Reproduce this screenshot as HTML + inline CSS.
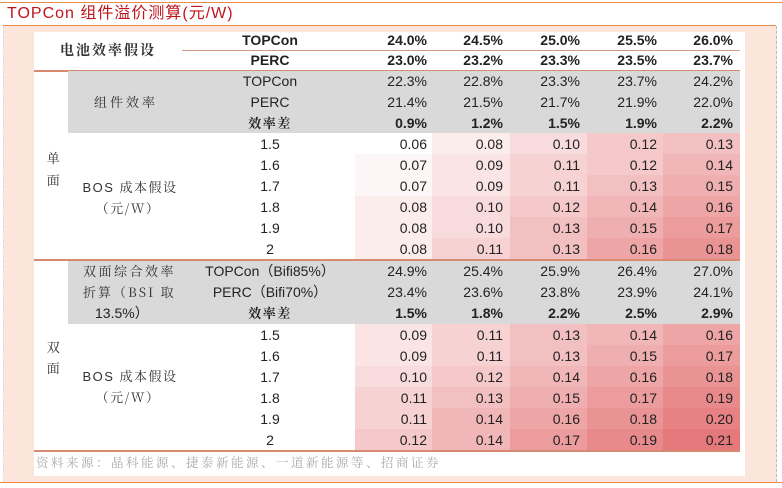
<!DOCTYPE html>
<html><head><meta charset="utf-8">
<style>
body{margin:0;width:782px;height:488px;background:#fff;position:relative;overflow:hidden;font-family:"Liberation Sans","Noto Sans CJK SC",sans-serif;color:#222}
.a{position:absolute}
.t{position:absolute;font-size:14px;line-height:20px;white-space:nowrap}
.c{transform:translateX(-50%)}
.r{transform:translateX(-100%)}
.zh{font-family:"Noto Serif CJK SC","Liberation Serif",serif;font-size:13px;color:#333;letter-spacing:1.5px}
</style></head><body>
<div class="a" style="left:0;top:2px;width:782px;height:1px;background:#ec8a4a"></div>
<div class="t" style="left:7px;top:3px;font-size:16px;line-height:22px;color:#c0141c;letter-spacing:1px">TOPCon 组件溢价测算(元/W)</div>
<div class="a" style="left:3px;top:25px;width:773px;height:1px;background:#ec8a4a"></div>
<div class="a" style="left:3px;top:26px;width:772px;height:456px;background:#fce5da;border-right:1px dashed #bbb;border-left:1px dashed #ddd"></div>
<div class="a" style="left:0;top:482px;width:782px;height:1px;background:#ec8a4a"></div>
<div class="a" style="left:34px;top:32px;width:711px;height:444px;background:#fff"></div>
<div id="tbl"></div>
<script>
const effTop=["24.0%","24.5%","25.0%","25.5%","26.0%"];
const effPerc=["23.0%","23.2%","23.3%","23.5%","23.7%"];
const modTop=["22.3%","22.8%","23.3%","23.7%","24.2%"];
const modPerc=["21.4%","21.5%","21.7%","21.9%","22.0%"];
const modDiff=["0.9%","1.2%","1.5%","1.9%","2.2%"];
const bos=["1.5","1.6","1.7","1.8","1.9","2"];
const single=[[0.06,0.08,0.10,0.12,0.13],[0.07,0.09,0.11,0.12,0.14],[0.07,0.09,0.11,0.13,0.15],[0.08,0.10,0.12,0.14,0.16],[0.08,0.10,0.13,0.15,0.17],[0.08,0.11,0.13,0.16,0.18]];
const biTop=["24.9%","25.4%","25.9%","26.4%","27.0%"];
const biPerc=["23.4%","23.6%","23.8%","23.9%","24.1%"];
const biDiff=["1.5%","1.8%","2.2%","2.5%","2.9%"];
const bifacial=[[0.09,0.11,0.13,0.14,0.16],[0.09,0.11,0.13,0.15,0.17],[0.10,0.12,0.14,0.16,0.18],[0.11,0.13,0.15,0.17,0.19],[0.11,0.14,0.16,0.18,0.20],[0.12,0.14,0.17,0.19,0.21]];

const T=document.getElementById('tbl');
const colL=[355,432,510,587,663,740];
const colR=[427,503,580,657,733];
const RH=21;
function box(x,y,w,h,bg,name){const d=document.createElement('div');d.className='a';d.style.cssText=`left:${x}px;top:${y}px;width:${w}px;height:${h}px;background:${bg}`;


T.appendChild(d);return d;}
function txt(s,x,y,cls,name,extra){const d=document.createElement('div');d.className='t '+(cls||'');d.textContent=s;d.style.left=x+'px';d.style.top=(y-10)+'px';if(extra)d.style.cssText+=extra;


T.appendChild(d);return d;}
function heat(v){const k=Math.max(0,Math.min(1,(v-0.06)/0.15));const a=[255,255,255],b=[229,120,122];return `rgb(${a.map((c,i)=>Math.round(c+(b[i]-c)*k)).join(',')})`;}

// header
txt('电池效率假设',108,50,'c zh','battery-eff-label','font-weight:bold;font-size:14px;letter-spacing:2px');
txt('TOPCon',270,40,'c','header-topcon','font-weight:bold');
txt('PERC',270,60,'c','header-perc','font-weight:bold');
effTop.forEach((v,i)=>txt(v,colR[i],40,'r','eff-topcon-'+i,'font-weight:bold'));
effPerc.forEach((v,i)=>txt(v,colR[i],60,'r','eff-perc-'+i,'font-weight:bold'));
box(182,50,558,1,'#d49a88','header-divider');
box(34,70,706,1.5,'#d88a70','header-rule');

// single gray block
box(68,71,672,62,'#d9d9d9','module-eff-block');
txt('组件效率',126,102,'c zh','module-eff-label','letter-spacing:3px');
[['TOPCon',modTop,''],['PERC',modPerc,''],['效率差',modDiff,'bold']].forEach((r,j)=>{
 const y=81+j*RH;
 txt(r[0],270,y,'c'+(j==2?' zh':''),'module-row-label-'+j,j==2?'font-weight:bold;color:#222':'');
 r[1].forEach((v,i)=>txt(v,colR[i],y,'r','module-'+j+'-'+i,r[2]?'font-weight:bold':''));
});
// single heat
single.forEach((row,j)=>{const y=133+j*RH;
 txt(bos[j],270,y+11,'c','single-bos-'+j);
 row.forEach((v,i)=>{box(colL[i],y,colL[i+1]-colL[i],RH,heat(v),'single-cell-'+j+'-'+i);txt(v.toFixed(2),colR[i],y+11,'r','single-val-'+j+'-'+i);});
});
txt('单',54,158,'c zh','single-label-1');txt('面',54,180,'c zh','single-label-2');
txt('BOS 成本假设',130,188,'c zh','single-bos-label','font-family:\"Liberation Sans\",\"Noto Serif CJK SC\",serif');
txt('（元/W）',128,208,'c zh','single-bos-unit');
box(34,259,706,1.5,'#d88a70','section-rule');

// bifacial gray
box(68,261,672,63,'#d9d9d9','bifacial-eff-block');
txt('双面综合效率',83,271,'zh','bifacial-label-1','letter-spacing:2.5px');
txt('折算（BSI 取',83,292,'zh','bifacial-label-2','letter-spacing:2px');
txt('13.5%）',95,313,'','bifacial-label-3');
[['TOPCon（Bifi85%）',biTop,''],['PERC（Bifi70%）',biPerc,''],['效率差',biDiff,'bold']].forEach((r,j)=>{
 const y=271+j*RH;
 txt(r[0],270,y,'c'+(j==2?' zh':''),'bifacial-row-label-'+j,j==2?'font-weight:bold;color:#222':'');
 r[1].forEach((v,i)=>txt(v,colR[i],y,'r','bifacial-'+j+'-'+i,r[2]?'font-weight:bold':''));
});
bifacial.forEach((row,j)=>{const y=324+j*RH;
 txt(bos[j],270,y+11,'c','bifacial-bos-'+j);
 row.forEach((v,i)=>{box(colL[i],y,colL[i+1]-colL[i],RH,heat(v),'bifacial-cell-'+j+'-'+i);txt(v.toFixed(2),colR[i],y+11,'r','bifacial-val-'+j+'-'+i);});
});
txt('双',54,347,'c zh','bifacial-side-1');txt('面',54,368,'c zh','bifacial-side-2');
txt('BOS 成本假设',130,377,'c zh','bifacial-bos-label','font-family:\"Liberation Sans\",\"Noto Serif CJK SC\",serif');
txt('（元/W）',128,397,'c zh','bifacial-bos-unit');
box(34,450,706,1.5,'#d88a70','table-bottom-rule');
txt('资料来源：晶科能源、捷泰新能源、一道新能源等、招商证券',36,462,'zh','source-note','color:#aaa;font-size:12.5px;letter-spacing:2.5px');
</script>
</body></html>
